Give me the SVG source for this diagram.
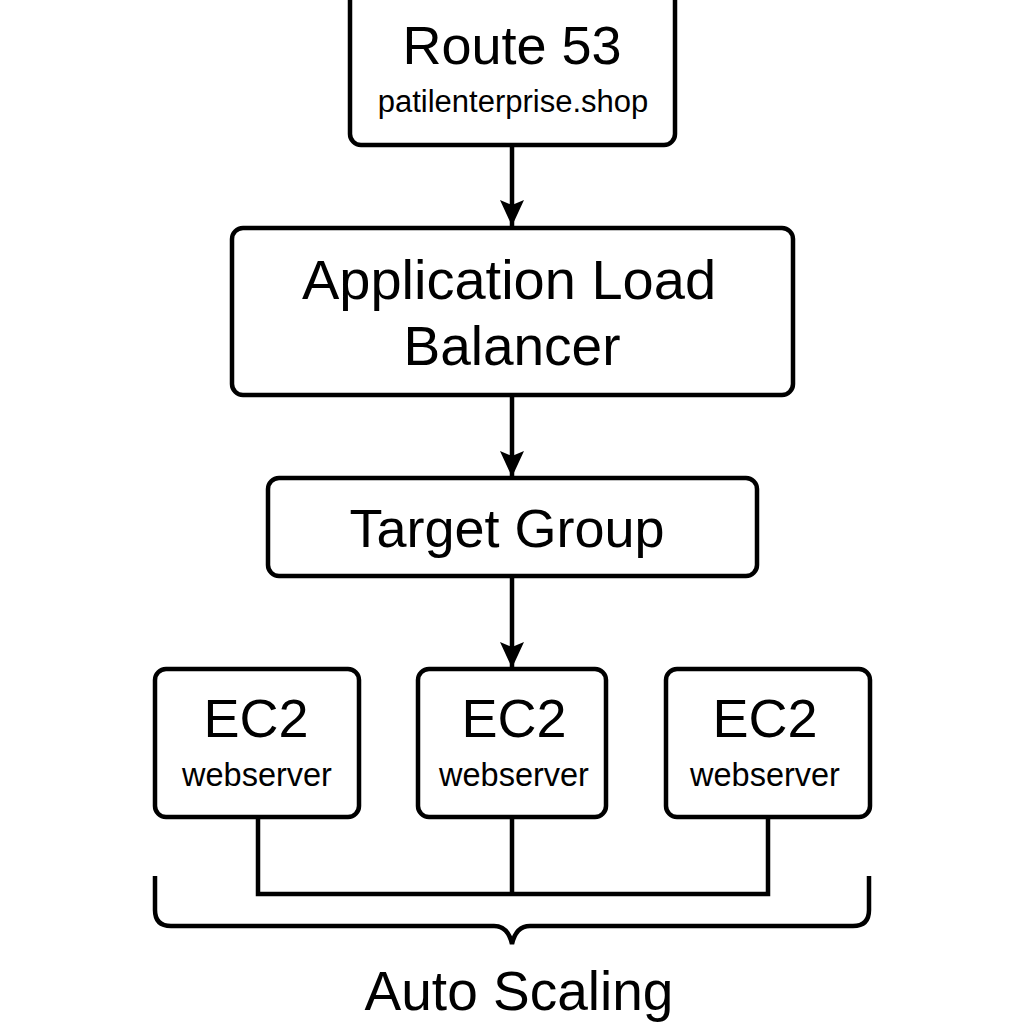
<svg xmlns="http://www.w3.org/2000/svg" width="1024" height="1024" viewBox="0 0 1024 1024">
<style>
.box{fill:#fff;stroke:#000;stroke-width:4.5}
.big{font-family:"Liberation Sans",Arial,sans-serif;font-size:54px;fill:#000;text-anchor:middle}
.small{font-family:"Liberation Sans",Arial,sans-serif;font-size:31px;fill:#000;text-anchor:middle}
.ws{font-size:32.5px}
.line{fill:none;stroke:#000;stroke-width:4.5}
</style>
<defs>
<marker id="arrow" markerUnits="userSpaceOnUse" markerWidth="30" markerHeight="30" viewBox="0 0 30 30" refX="26" refY="15" orient="auto">
<path d="M0,3 L26,15 L0,27 L5,15 Z" fill="#000"/>
</marker>
</defs>
<rect width="1024" height="1024" fill="#fff"/>
<g id="connectors">
<line class="line" x1="512" y1="145" x2="512" y2="226" marker-end="url(#arrow)"/>
<line class="line" x1="512" y1="395" x2="512" y2="477" marker-end="url(#arrow)"/>
<line class="line" x1="512" y1="576" x2="512" y2="668" marker-end="url(#arrow)"/>
<path class="line" d="M258,817 V894 H768 V817 M512,817 V894"/>
</g>
<g id="route53">
<rect class="box" x="350" y="-20" width="325" height="165" rx="11"/>
<text class="big" x="512" y="64">Route 53</text>
<text class="small" x="513" y="112">patilenterprise.shop</text>
</g>
<g id="alb">
<rect class="box" x="232" y="228" width="561" height="167" rx="11"/>
<text class="big" x="509" y="299" style="font-size:56px">Application Load</text>
<text class="big" x="512" y="365" style="font-size:55px">Balancer</text>
</g>
<g id="targetgroup">
<rect class="box" x="268" y="478" width="489" height="98" rx="11"/>
<text class="big" x="507" y="547">Target Group</text>
</g>
<g id="ec2-1">
<rect class="box" x="155" y="669" width="204" height="148" rx="11"/>
<text class="big" x="256" y="737">EC2</text>
<text class="small ws" x="257" y="786">webserver</text>
</g>
<g id="ec2-2">
<rect class="box" x="418" y="669" width="188" height="148" rx="11"/>
<text class="big" x="514" y="737">EC2</text>
<text class="small ws" x="514" y="786">webserver</text>
</g>
<g id="ec2-3">
<rect class="box" x="666" y="669" width="204" height="148" rx="11"/>
<text class="big" x="765" y="737">EC2</text>
<text class="small ws" x="765" y="786">webserver</text>
</g>
<g id="autoscaling">
<path class="line" d="M155,876 V910 Q155,926 171,926 H494 Q508,926 512,944 Q516,926 530,926 H853 Q869,926 869,910 V876"/>
<text class="big" x="519" y="1010" style="font-size:55px">Auto Scaling</text>
</g>
</svg>
